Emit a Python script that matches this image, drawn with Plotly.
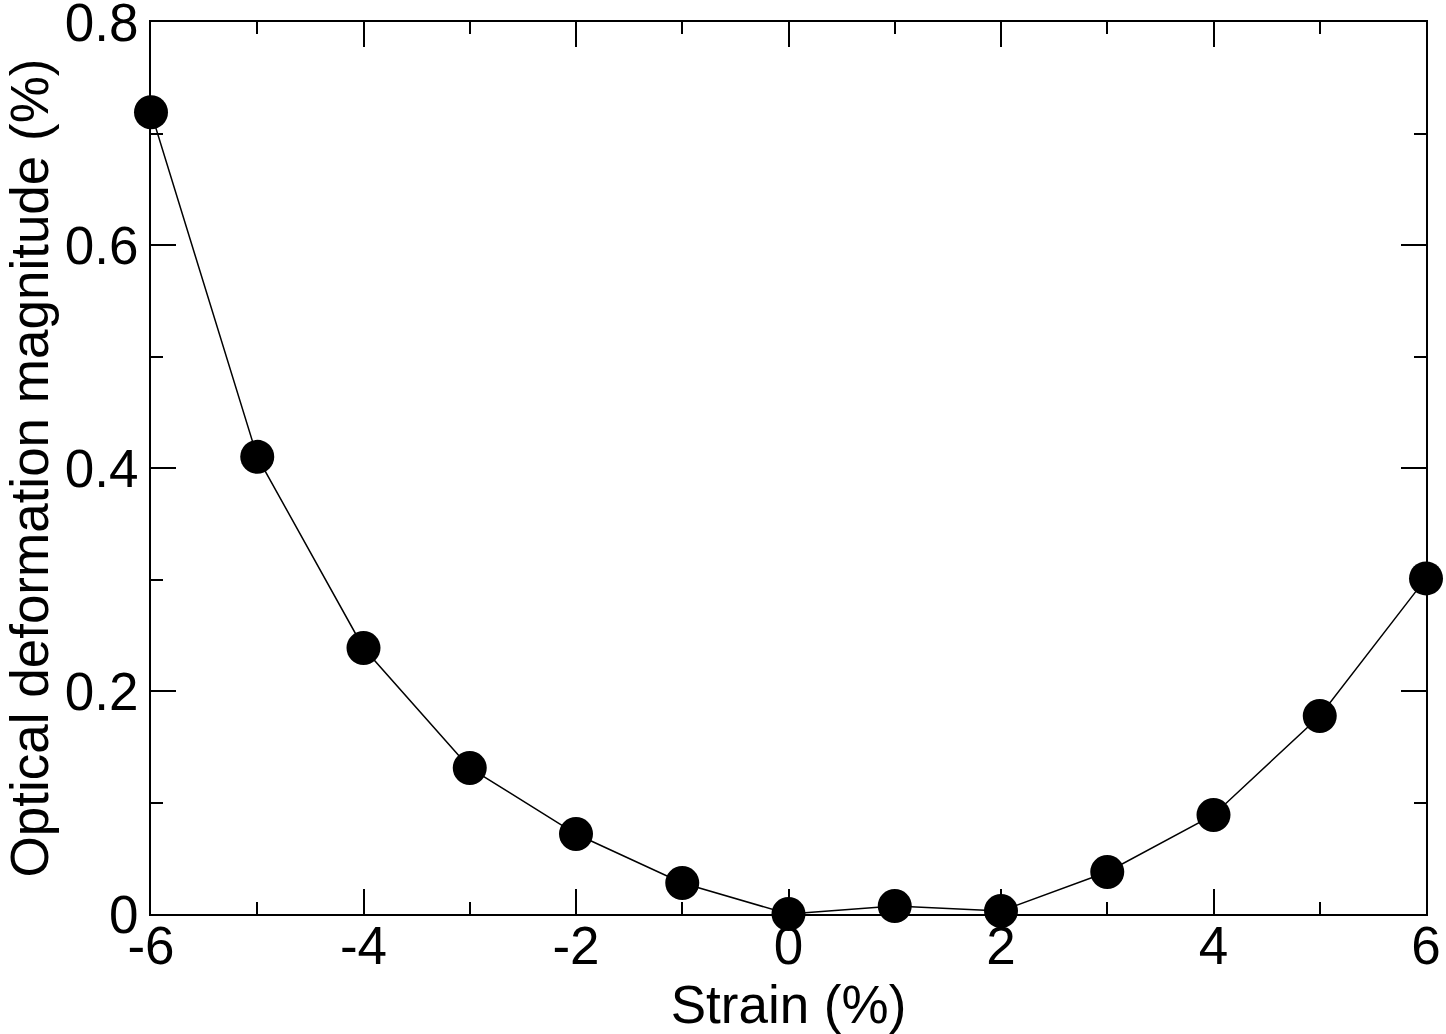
import plotly.graph_objects as go

strain = [-6, -5, -4, -3, -2, -1, 0, 1, 2, 3, 4, 5, 6]
magnitude = [0.719, 0.410, 0.2386, 0.131, 0.0717, 0.0278, 0.0, 0.0072, 0.0027, 0.0377, 0.0888, 0.1776, 0.301]

fig = go.Figure()
fig.add_trace(go.Scatter(
    x=strain, y=magnitude, mode="lines+markers",
    line=dict(color="black", width=1.5),
    marker=dict(color="black", size=34),
    cliponaxis=False, showlegend=False,
))

fam = "Liberation Sans, Arial, sans-serif"
tickfont = dict(family=fam, size=53, color="black")
axis_common = dict(
    showline=True, linecolor="black", linewidth=2, mirror="ticks",
    ticks="inside", ticklen=25, tickwidth=1.5, tickcolor="black",
    showgrid=False, zeroline=False, tickfont=tickfont,
    ticklabeloverflow="allow",
)
fig.update_xaxes(
    range=[-6, 6], tickvals=[-6, -4, -2, 0, 2, 4, 6], ticktext=["-6", "-4", "-2", "0", "2", "4", "6"],
    minor=dict(tickvals=[-5, -3, -1, 1, 3, 5], ticks="inside", ticklen=12, tickwidth=1.5, tickcolor="black", showgrid=False),
    title=dict(text="Strain (%)", font=dict(family=fam, size=53, color="black"), standoff=18),
    ticklabelstandoff=-16,
    **axis_common,
)
fig.update_yaxes(
    range=[0, 0.8], tickvals=[0, 0.2, 0.4, 0.6, 0.8], ticktext=["0", "0.2", "0.4", "0.6", "0.8"],
    minor=dict(tickvals=[0.1, 0.3, 0.5, 0.7], ticks="inside", ticklen=12, tickwidth=1.5, tickcolor="black", showgrid=False),
    title=dict(text="Optical deformation magnitude (%)", font=dict(family=fam, size=53, color="black"), standoff=14),
    **axis_common,
)
fig.update_layout(
    width=1446, height=1034,
    margin=dict(l=151, r=20, t=22, b=120, autoexpand=False),
    paper_bgcolor="white", plot_bgcolor="white",
)
fig.write_html("out.html")
